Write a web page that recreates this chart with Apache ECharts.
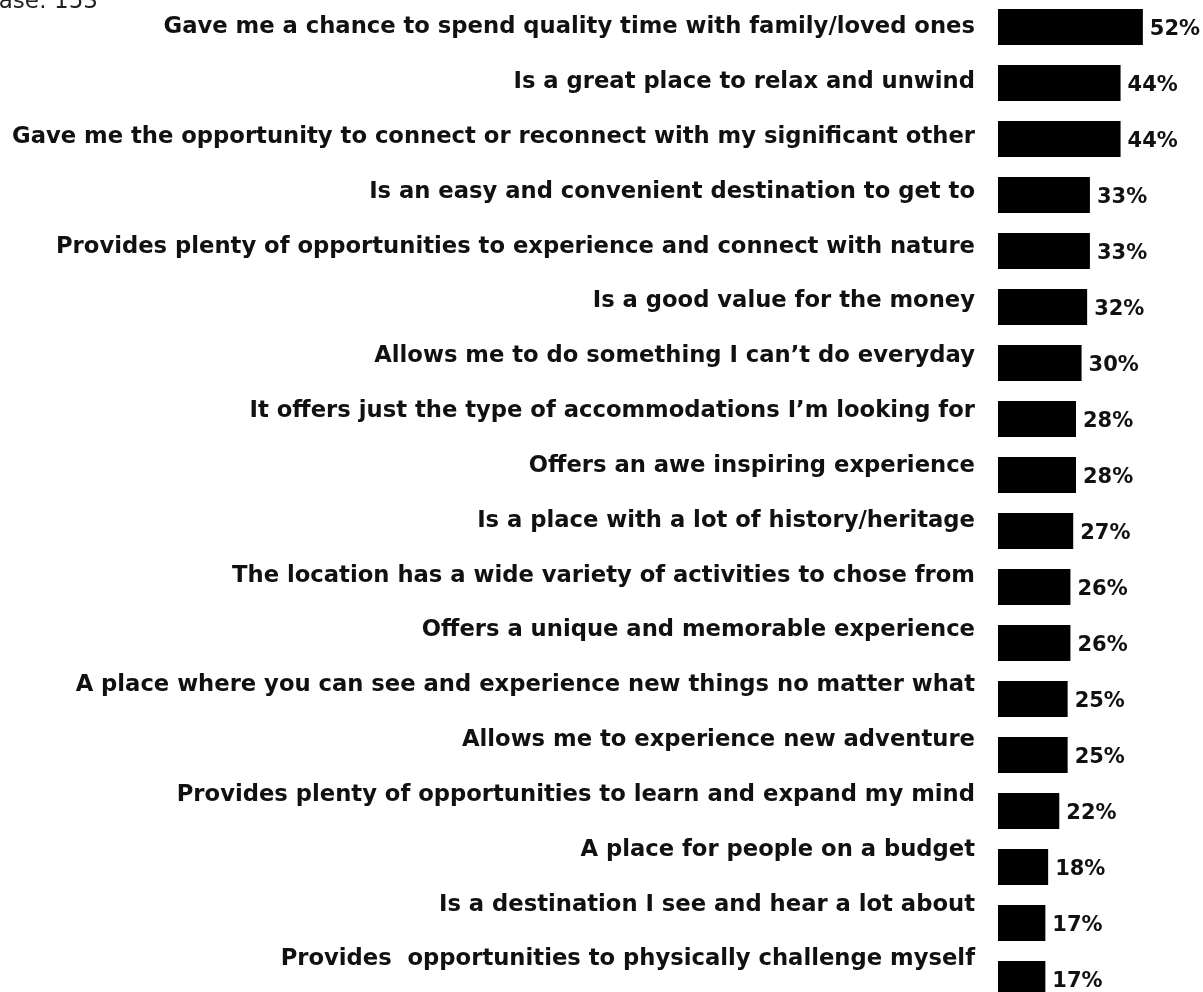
<!DOCTYPE html>
<html>
<head>
<meta charset="utf-8">
<script src="https://cdn.jsdelivr.net/npm/echarts@6/dist/echarts.min.js"></script>
<style>
  html, body { margin: 0; padding: 0; background: #fff; }
  #chart { width: 1203px; height: 992px; }
</style>
</head>
<body>
<div id="chart"></div>
<script>
// reasons, top to bottom
const reasons = [
  "Gave me a chance to spend quality time with family/loved ones",
  "Is a great place to relax and unwind",
  "Gave me the opportunity to connect or reconnect with my significant other",
  "Is an easy and convenient destination to get to",
  "Provides plenty of opportunities to experience and connect with nature",
  "Is a good value for the money",
  "Allows me to do something I can\u2019t do everyday",
  "It offers just the type of accommodations I\u2019m looking for",
  "Offers an awe inspiring experience",
  "Is a place with a lot of history/heritage",
  "The location has a wide variety of activities to chose from",
  "Offers a unique and memorable experience",
  "A place where you can see and experience new things no matter what",
  "Allows me to experience new adventure",
  "Provides plenty of opportunities to learn and expand my mind",
  "A place for people on a budget",
  "Is a destination I see and hear a lot about",
  "Provides  opportunities to physically challenge myself"
];
const percents = [52, 44, 44, 33, 33, 32, 30, 28, 28, 27, 26, 26, 25, 25, 22, 18, 17, 17];
const baseText = "Base: 153";

const font = "'Century Gothic', 'DejaVu Sans', sans-serif";

const chart = echarts.init(document.getElementById("chart"));
chart.setOption({
  animation: false,
  graphic: [{
    type: "text",
    left: -17,
    top: -9,
    style: { text: baseText, font: "23px " + font, fill: "#222" }
  }],
  grid: [
    // labels only
    { left: 998, top: 0, width: 195, height: 987 },
    // bars: spaced a bit wider than the labels, ticks on the bar centres
    { left: 998, top: 27, width: 195, height: 952 }
  ],
  xAxis: [
    { gridIndex: 0, type: "value", min: 0, max: 70, show: false },
    { gridIndex: 1, type: "value", min: 0, max: 70, show: false }
  ],
  yAxis: [
    {
      gridIndex: 0, type: "category", inverse: true, data: reasons,
      axisLine: { show: false }, axisTick: { show: false },
      axisLabel: {
        margin: 23, color: "#111", fontSize: 22.7, fontWeight: "bold", fontFamily: font
      }
    },
    {
      gridIndex: 1, type: "category", inverse: true, data: reasons, boundaryGap: false,
      axisLine: { show: false }, axisTick: { show: false }, axisLabel: { show: false }
    }
  ],
  series: [{
    type: "bar",
    xAxisIndex: 1,
    yAxisIndex: 1,
    data: percents,
    barWidth: 36,
    itemStyle: { color: "#000" },
    label: {
      show: true, position: "right", distance: 7, offset: [0, 3],
      formatter: "{c}%", color: "#111", fontSize: 21, fontWeight: "bold", fontFamily: font
    }
  }]
});
</script>
</body>
</html>
